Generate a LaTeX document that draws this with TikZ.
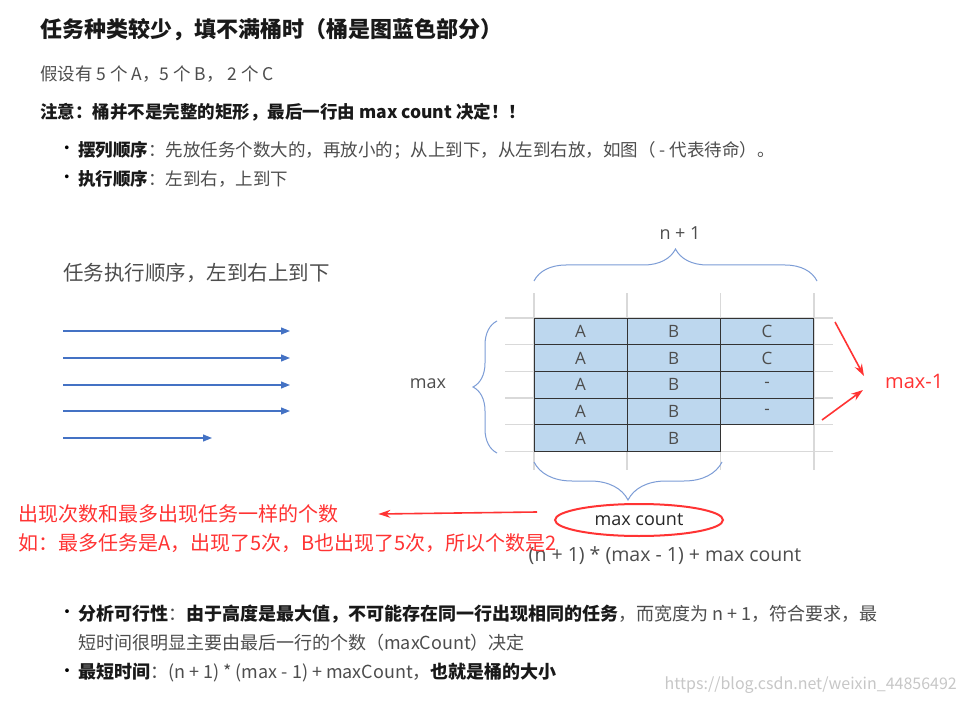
\documentclass[tikz,border=0pt]{standalone}
\usepackage{fontspec}
\setmainfont{Noto Sans CJK SC}
\newfontfamily\latf{Open Sans}
\usepackage{tikz}
\usetikzlibrary{arrows.meta}
\usetikzlibrary{shapes.geometric}
\usetikzlibrary{decorations.pathreplacing}
\definecolor{bucket}{HTML}{BDD7EE}
\definecolor{txtgray}{HTML}{4D4D4D}
\definecolor{arrblue}{HTML}{4472C4}
\definecolor{brblue}{HTML}{7C9CD6}
\definecolor{gridgray}{HTML}{D9D9D9}
\definecolor{mred}{HTML}{FF3333}
\tikzstyle{every node}=[anchor=west,inner sep=0pt]
\tikzstyle{cell}=[draw=black!80,thick,fill=bucket,anchor=center,minimum width=93pt,minimum height=26.7pt,text=txtgray,font=\cellf]
\tikzstyle{flow}=[arrblue,line width=1.2pt,-{Triangle[length=9pt,width=7pt]}]
\tikzstyle{redarr}=[mred,line width=1.6pt,-{Stealth[length=12pt,width=8pt]}]
\tikzstyle{brace}=[brblue,line width=1pt,decorate]
\newcommand{\titlef}{\fontsize{22}{26}\bfseries\selectfont}
\newcommand{\bodyf}{\fontsize{17.5}{21}\selectfont}
\newcommand{\lowf}{\fontsize{18}{22}\selectfont}
\newcommand{\cellf}{\latf\fontsize{17}{20}\selectfont}
\newcommand{\diagf}{\latf\fontsize{18}{21}\selectfont}
\newcommand{\redf}{\fontsize{20}{24}\selectfont}

\begin{document}
\begin{tikzpicture}[x=1pt,y=-1pt]
    \useasboundingbox[fill=white] (0,0) rectangle (966,703);
    % header text
    \node[text=black!90,font=\titlef] (title) at (40,30) {任务种类较少，填不满桶时（桶是图蓝色部分）};
    \node[text=txtgray,font=\bodyf] (given) at (40,74) {假设有 5 个 A，5 个 B， 2 个 C};
    \node[text=black!90,font=\bodyf\bfseries] (note) at (40,112) {注意：桶并不是完整的矩形，最后一行由 max count 决定！！};
    \node[font=\bodyf] (b1) at (58,150) {•};
    \node[text=txtgray,font=\bodyf] (put) at (78,150) {\textbf{\color{black!90}摆列顺序}：先放任务个数大的，再放小的；从上到下，从左到右放，如图（ - 代表待命）。};
    \node[font=\bodyf] (b2) at (58,179) {•};
    \node[text=txtgray,font=\bodyf] (run) at (78,179) {\textbf{\color{black!90}执行顺序}：左到右，上到下};
    % execution order
    \node[text=txtgray,font=\fontsize{20.5}{24}\selectfont] (order) at (63,273) {任务执行顺序，左到右上到下};
    \foreach \y/\e [count=\i] in {331/290,358/290,385/290,411/290,438/212} {
      \coordinate (s\i) at (63,\y);
      \coordinate (e\i) at (\e,\y);
      \draw[flow] (s\i) -- (e\i);
    }
    % grid
    \foreach \x in {534,627,720.5,814}
      \draw[gridgray,line width=1.3pt] (\x,293) -- (\x,470);
    \foreach \y in {318,344.7,371.3,398,424.7,451.3}
      \draw[gridgray,line width=1.3pt] (505,\y) -- (833,\y);
    % bucket
    \foreach \r/\a/\b/\c in {1/A/B/C,2/A/B/C,3/A/B/-,4/A/B/-} {
      \node[cell] (a\r) at (580.5,{304.7+26.7*\r}) {\a};
      \node[cell] (b\r) at (673.5,{304.7+26.7*\r}) {\b};
      \node[cell] (c\r) at (767,{304.7+26.7*\r}) {\c};
    }
    \node[cell] (a5) at (580.5,438) {A};
    \node[cell] (b5) at (673.5,438) {B};
    % braces
    \draw[brace,decoration={brace,amplitude=32pt}] (534,281) -- (817,281);
    \node[text=txtgray,font=\diagf,anchor=center] (n1) at (680,233) {n + 1};
    \draw[brace,decoration={brace,amplitude=24pt}] (497,453) -- (497,321);
    \node[text=txtgray,font=\diagf,anchor=center] (max) at (428,384) {max};
    \draw[brace,decoration={brace,amplitude=38pt}] (722,462) -- (534,462);
    % max count
    \node[ellipse,draw=mred,line width=2pt,minimum width=168pt,minimum height=32pt,anchor=center,text=black!85,font=\diagf] (mc) at (639,520) {max count};
    \node[text=txtgray,font=\latf\fontsize{19.5}{22}\selectfont,anchor=center] (formula) at (665,556) {(n + 1) * (max - 1) + max count};
    \node[text=mred,font=\redf] (why) at (18,514) {出现次数和最多出现任务一样的个数};
    \node[text=mred,font=\redf] (eg) at (18,543) {如：最多任务是A，出现了5次，B也出现了5次，所以个数是2};
    \coordinate (mcl) at (537,512);
    \draw[redarr] (mcl) -- ([xshift=40pt]why.east);
    % max-1
    \node[text=mred,font=\latf\fontsize{20}{23}\selectfont] (m1) at (885,381) {max-1};
    \coordinate (t1) at (835,322);
    \coordinate (t2) at (822,420);
    \draw[redarr] (t1) -- (864,376);
    \draw[redarr] (t2) -- (863,390);
    % analysis
    \node[font=\lowf] (b3) at (58,614) {•};
    \node[text=txtgray,font=\lowf] (ana) at (78,614) {\textbf{\color{black!90}分析可行性}：\textbf{\color{black!90}由于高度是最大值，不可能存在同一行出现相同的任务}，而宽度为 n + 1，符合要求，最};
    \node[text=txtgray,font=\lowf] (ana2) at (78,643) {短时间很明显主要由最后一行的个数（maxCount）决定};
    \node[font=\lowf] (b4) at (58,673) {•};
    \node[text=txtgray,font=\lowf] (min) at (78,673) {\textbf{\color{black!90}最短时间}：(n + 1) * (max - 1) + maxCount，\textbf{\color{black!90}也就是桶的大小}};
    \node[text=black!22,font=\fontsize{16}{19}\selectfont,anchor=east] (wm) at (957,685) {https://blog.csdn.net/weixin\_44856492};
\end{tikzpicture}
\end{document}
